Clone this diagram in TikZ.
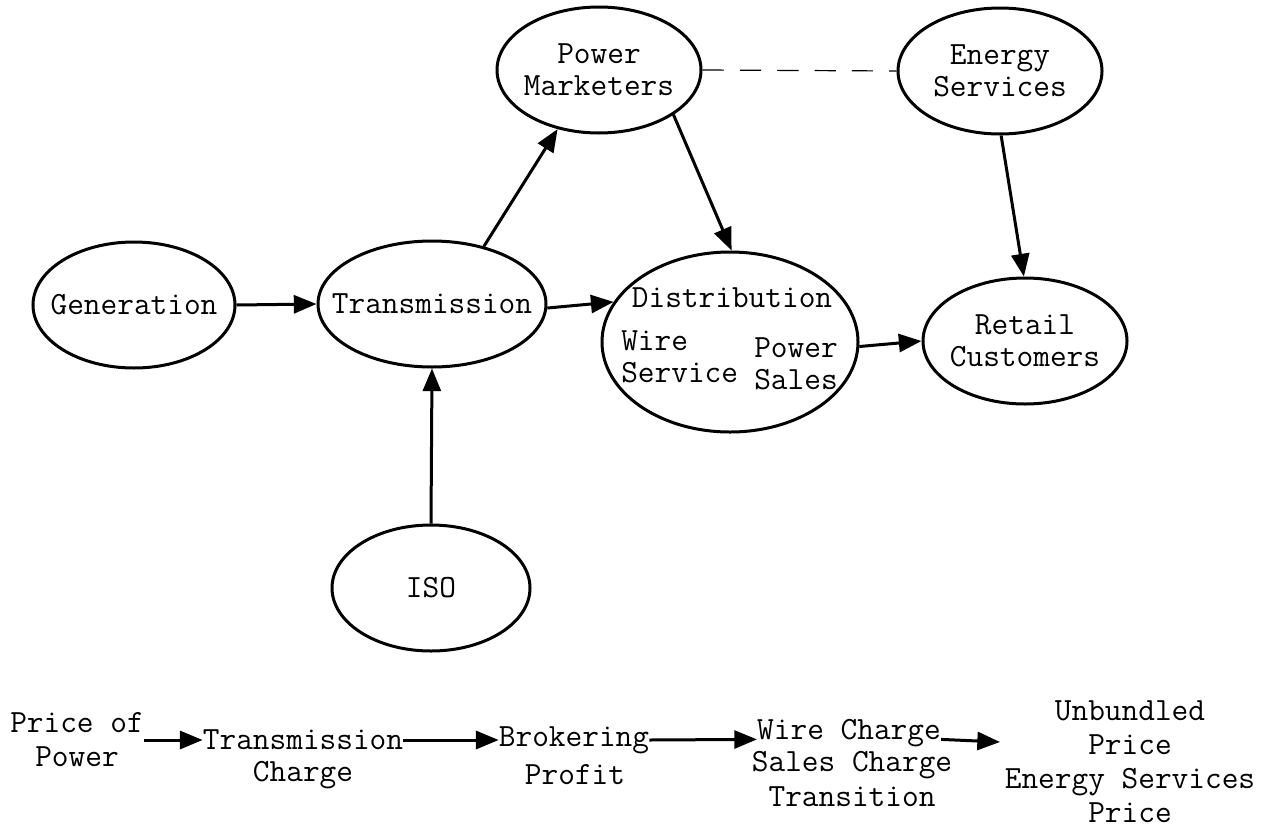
\documentclass[tikz,border=0pt]{standalone}
\usetikzlibrary{shapes.geometric,arrows.meta}
\newcommand\dgtop{\ttfamily\fontsize{24.3}{24}\selectfont}
\newcommand\dgbot{\ttfamily\fontsize{24.3}{25.5}\selectfont}
\begin{document}
\begin{tikzpicture}[x=0.75pt,y=-0.75pt,
  ell/.style={draw,ellipse,line width=2.25pt,inner xsep=-30pt,inner ysep=0pt,align=center,font=\dgtop},
  arr/.style={line width=2.25pt,-{Triangle[length=17pt,width=13.5pt]}},
  dtext/.style={inner sep=0pt,align=left,font=\dgtop},
  lbl/.style={inner sep=0pt,align=center,font=\dgbot}]
\useasboundingbox (0,0) rectangle (1273,832);

% ellipses
\node[ell,minimum width=151.5pt,minimum height=94.5pt] (gen) at (134,305) {Generation};
\node[ell,minimum width=171pt,minimum height=94.5pt] (trans) at (432,304) {Transmission};
\node[ell,minimum width=153pt,minimum height=94.5pt] (pm) at (599,70) {Power\\Marketers};
\node[ell,minimum width=153pt,minimum height=94.5pt] (es) at (1000,71) {Energy\\Services};
\node[ell,minimum width=192pt,minimum height=135pt] (dist) at (730,342) {};
\node[ell,minimum width=153pt,minimum height=94.5pt] (ret) at (1025,341) {Retail\\Customers};
\node[ell,minimum width=148.5pt,minimum height=94.5pt] (iso) at (431,588) {\raisebox{-6pt}{ISO}};

% distribution texts
\node[dtext] (dname) at (732,298) {Distribution};
\node[dtext,anchor=west] (dwire) at (621,357) {Wire\\Service};
\node[dtext,anchor=west] (dpow) at (754,364) {Power\\Sales};

% connectors
\draw[arr] (gen.east) -- (trans.west);
\draw[arr] (trans.-2) -- (dist.161);
\draw[arr] (trans.48) -- (pm.-125);
\draw[arr] (pm.-31) -- (dist.89);
\draw[arr] (es.-89) -- (ret.91);
\draw[arr] (dist.-2) -- (ret.west);
\draw[arr] (iso.north) -- (trans.south);
\draw[line width=0.9pt,dash pattern=on 16pt off 12pt] (pm.east) -- (es.west);

% bottom row
\node[lbl] (p1) at (77,740) {Price of\\Power};
\node[lbl] (t1) at (303,740) {Transmission};
\node[lbl] (t2) at (303,775) {Charge};
\node[lbl] (b1) at (574,740) {Brokering};
\node[lbl] (b2) at (575,775) {Profit};
\node[lbl] (w1) at (849,733) {Wire Charge};
\node[lbl] (w2) at (852,765) {Sales Charge};
\node[lbl] (w3) at (852,797) {Transition};
\node[lbl] (ub) at (1130,762) {Unbundled\\Price\\Energy Services\\Price};
\coordinate (ue) at (1000,742);

\draw[arr] (p1.east) -- (t1.west);
\draw[arr] (t1.east) -- (b1.west);
\draw[arr] (b1.east) -- (w1.base west);
\draw[arr] (w1.base east) -- (ue);
\end{tikzpicture}
\end{document}
